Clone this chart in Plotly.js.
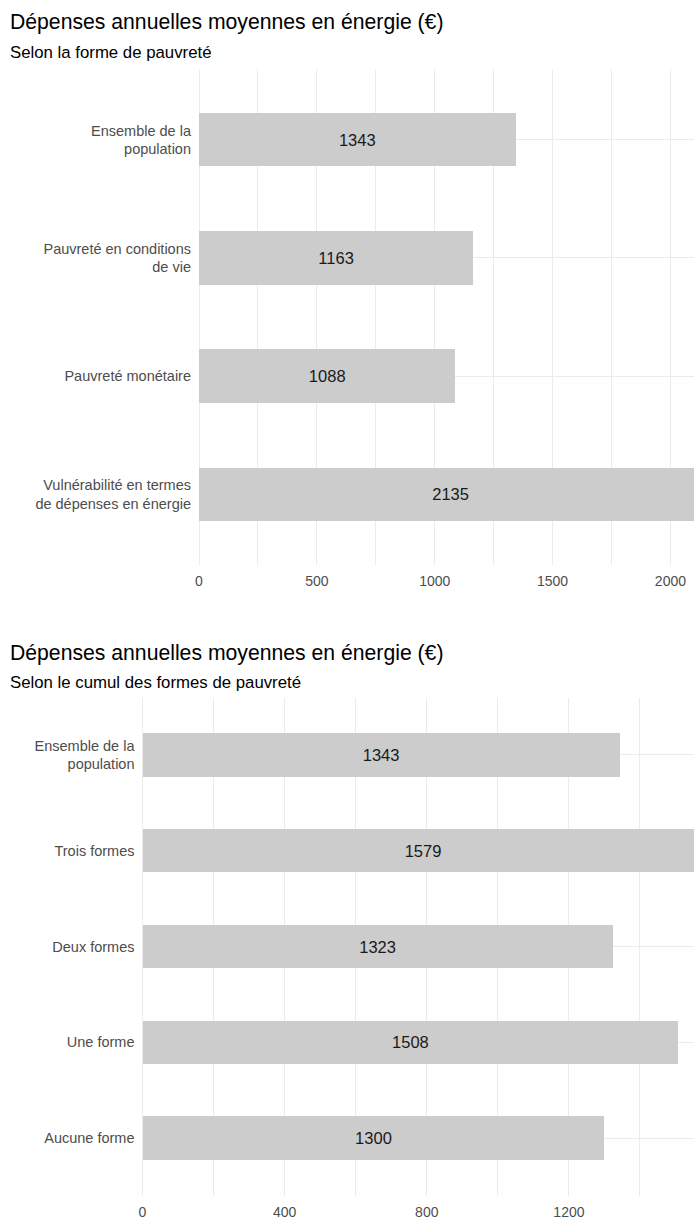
<!DOCTYPE html>
<html>
<head>
<meta charset="utf-8">
<script src="https://cdn.plot.ly/plotly-3.0.1.min.js"></script>
<style>html,body{margin:0;padding:0;background:#fff;}#chart{width:694px;height:1220px;}</style>
</head>
<body>
<div id="chart"></div>
<script>
// ---- Data ----
const title1 = "Dépenses annuelles moyennes en énergie (€)";
const subtitle1 = "Selon la forme de pauvreté";
const categories1 = ["Ensemble de la<br>population", "Pauvreté en conditions<br>de vie", "Pauvreté monétaire", "Vulnérabilité en termes<br>de dépenses en énergie"];
const values1 = [1343, 1163, 1088, 2135];
const ticks1 = [0, 500, 1000, 1500, 2000];

const title2 = "Dépenses annuelles moyennes en énergie (€)";
const subtitle2 = "Selon le cumul des formes de pauvreté";
const categories2 = ["Ensemble de la<br>population", "Trois formes", "Deux formes", "Une forme", "Aucune forme"];
const values2 = [1343, 1579, 1323, 1508, 1300];
const ticks2 = [0, 400, 800, 1200];

// ---- Layout helpers ----
const W = 694, H = 1220;
const py = p => 1 - p / H;
const px = p => p / W;
const FONT = "Liberation Sans, Arial, sans-serif";
const GRID = "#ebebeb";
const BAR = "#cccccc";

function barTrace(cats, vals, xa, ya) {
  return {
    type: "bar", orientation: "h",
    y: cats, x: vals, xaxis: xa, yaxis: ya,
    width: 0.45,
    marker: {color: BAR, line: {width: 0}},
    text: vals.map(v => String(v)),
    textposition: "inside", insidetextanchor: "middle",
    constraintext: "none",
    textfont: {family: FONT, size: 16.5, color: "#1a1a1a"},
    hoverinfo: "skip", showlegend: false
  };
}

function xAxis(domainLeft, yAnchor, rangeMax, ticks, minorStep) {
  return {
    domain: [px(domainLeft), 1], anchor: yAnchor,
    range: [0, rangeMax], tickvals: ticks, ticktext: ticks.map(String),
    showgrid: true, gridcolor: GRID, gridwidth: 1,
    zeroline: true, zerolinecolor: GRID, zerolinewidth: 1,
    minor: {tickvals: ticks.map(t => t + minorStep), showgrid: true, gridcolor: GRID, gridwidth: 1},
    showline: false, ticks: "", ticklabelstandoff: 6,
    tickfont: {family: FONT, size: 14, color: "#4d4d4d"},
    fixedrange: true
  };
}

function yAxis(top, bottom, xAnchor, cats) {
  return {
    domain: [py(bottom), py(top)], anchor: xAnchor,
    type: "category", categoryorder: "array", categoryarray: cats,
    range: [cats.length - 1 + 0.6, -0.6],
    showgrid: true, gridcolor: GRID, gridwidth: 1, zeroline: false,
    showline: false, ticks: "", ticklabelstandoff: 7,
    tickfont: {family: FONT, size: 14.5, color: "#4d4d4d"},
    fixedrange: true
  };
}

function textAnn(text, yPix, size) {
  return {
    text: text, xref: "paper", yref: "paper",
    x: px(8), y: py(yPix), xanchor: "left", yanchor: "middle",
    showarrow: false, font: {family: FONT, size: size, color: "#000000"}
  };
}

const data = [
  barTrace(categories1, values1, "x", "y"),
  barTrace(categories2, values2, "x2", "y2")
];

const layout = {
  width: W, height: H,
  margin: {l: 0, r: 0, t: 0, b: 0},
  paper_bgcolor: "#ffffff", plot_bgcolor: "#ffffff",
  font: {family: FONT},
  bargap: 0,
  xaxis: xAxis(199, "y", 2100, ticks1, 250),
  yaxis: yAxis(69, 565, "x", categories1),
  xaxis2: xAxis(142.5, "y2", 1552, ticks2, 200),
  yaxis2: yAxis(697.5, 1195.5, "x2", categories2),
  annotations: [
    textAnn(title1, 22.5, 21.2),
    textAnn(subtitle1, 52.5, 16.8),
    textAnn(title2, 652.5, 21.2),
    textAnn(subtitle2, 682.5, 16.8)
  ]
};

Plotly.newPlot("chart", data, layout, {staticPlot: true, displayModeBar: false});
</script>
</body>
</html>
